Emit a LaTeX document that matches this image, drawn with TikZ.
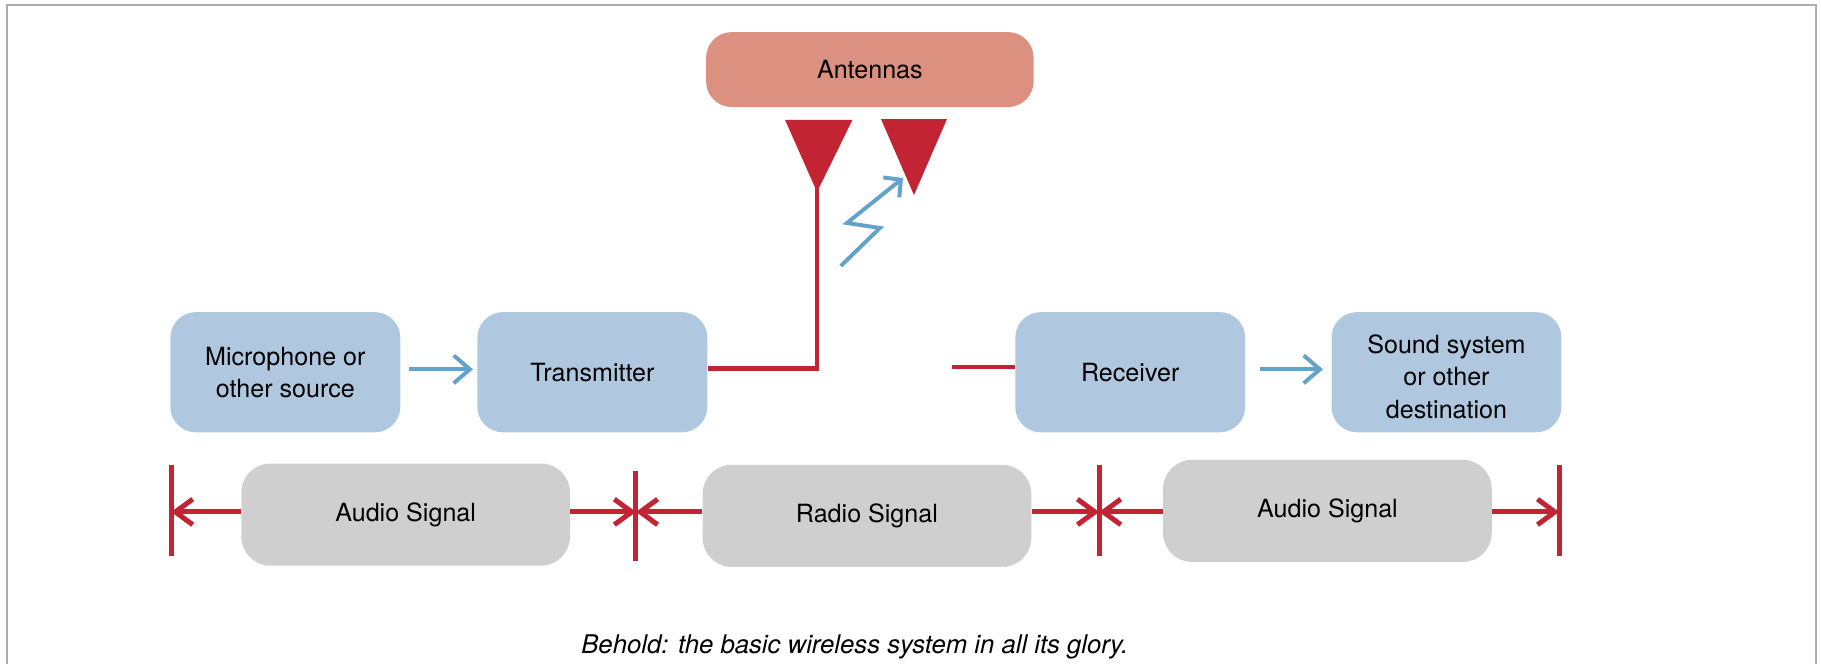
\documentclass[tikz,border=0pt]{standalone}
\usepackage{fontspec}
\setmainfont{TeX Gyre Heros}
\usepackage{tikz}
\usetikzlibrary{arrows.meta}
\definecolor{boxblue}{HTML}{AFC8DF}
\definecolor{arrowblue}{HTML}{64A2CB}
\definecolor{wirered}{HTML}{C22434}
\definecolor{antsalmon}{HTML}{DC9080}
\definecolor{sigray}{HTML}{CFCFCF}
\definecolor{framegray}{HTML}{ADADAD}
\tikzstyle{box}=[
	rectangle,
	rounded corners=4.4mm,
	align=center,
	inner sep=1mm,
	font=\fontsize{12.3pt}{15.8pt}\selectfont
]
\tikzstyle{stage}=[
	box,
	fill=boxblue,
	minimum width=39.6mm,
	minimum height=20.7mm
]
\tikzstyle{signal}=[
	box,
	fill=sigray,
	rounded corners=5mm,
	minimum width=56.6mm,
	minimum height=17.6mm
]
\tikzstyle{flow}=[
	-{Straight Barb[length=2.8mm, width=4.8mm]},
	draw=arrowblue,
	line width=0.68mm
]
\tikzstyle{wire}=[
	-,
	draw=wirered,
	line width=0.8mm
]
\tikzstyle{span}=[
	-{Straight Barb[length=3mm, width=4.4mm]},
	draw=wirered,
	line width=0.86mm
]

\begin{document}
\begin{tikzpicture}[x=0.2mm, y=-0.2mm, bar/.style={wire, line width=0.86mm}]
\useasboundingbox (0, 0) rectangle (1568, 572);
\draw[framegray, line width=0.35mm] (6.3, 572) -- (6.3, 4.6) -- (1563.4, 4.6) -- (1563.4, 572);

\node[box, fill=antsalmon, minimum width=56.4mm, minimum height=12.9mm] at (749, 59.9) (ant) {Antennas};

\foreach \x/\n/\txt in {245.7/mic/{Microphone or\\other source}, 510.1/tx/Transmitter,
                        973.2/rx/Receiver, 1245.5/dest/{\rule{0pt}{4.8mm}Sound system\\or other\\destination}}{
    \node[stage] at (\x, 320.5) (\n) {\txt};
}

\fill[wirered] (676, 103.3) -- (734, 103.3) -- (703.5, 165.3) coordinate (tipa) -- cycle;
\fill[wirered] (758.6, 102.5) -- (815.4, 102.5) -- (787, 168) coordinate (tipb) -- cycle;

\coordinate (feed) at (703.5, 317.1);
\coordinate (stub) at (819.7, 316);
\draw[wire] (tx.east |- feed) -- ([xshift=0.34mm]feed);
\draw[wire, line width=0.68mm] ([yshift=-0.4mm]feed) -- ([yshift=1mm]tipa);
\draw[wire] (stub) -- (rx.west |- stub);

\coordinate (bolt) at (724, 229);
\coordinate (hit) at (777.5, 153.3);
\draw[flow, -{Straight Barb[length=2.1mm, width=4.4mm]}] (bolt) -- (757.7, 196.3) -- (729.3, 192) -- (hit);

\draw[flow, shorten <=1.5mm, shorten >=0.7mm] ([yshift=0.5mm]mic.east) -- ([yshift=0.5mm]tx.west);
\draw[flow, shorten <=2.4mm, shorten >=1.4mm] ([yshift=0.5mm]rx.east) -- ([yshift=0.5mm]dest.west);

\foreach \x/\y/\n/\txt in {349.3/443.1/sa/Audio Signal, 746.5/444.2/sb/Radio Signal,
                           1143/439.9/sc/Audio Signal}{
    \node[signal] at (\x, \y) (\n) {\txt};
}

\foreach \x/\ya/\yb/\n in {147.3/400.4/478.5/ba, 547.6/405.3/483/bb,
                           946.4/400.4/478.5/bc, 1342.5/400.4/478.5/bd}{
    \coordinate (\n) at (\x, 440.8);
    \draw[bar] (\x, \ya) -- (\x, \yb);
}

\foreach \s/\a/\b in {sa/ba/bb, sb/bb/bc, sc/bc/bd}{
    \draw[span] (\s.west |- \a) -- (\a);
    \draw[span] (\s.east |- \b) -- (\b);
}

\node[font=\fontsize{12.6pt}{15pt}\selectfont\itshape] at (736, 557) (caption)
    {Behold: the basic wireless system in all its glory.};
\end{tikzpicture}
\end{document}
